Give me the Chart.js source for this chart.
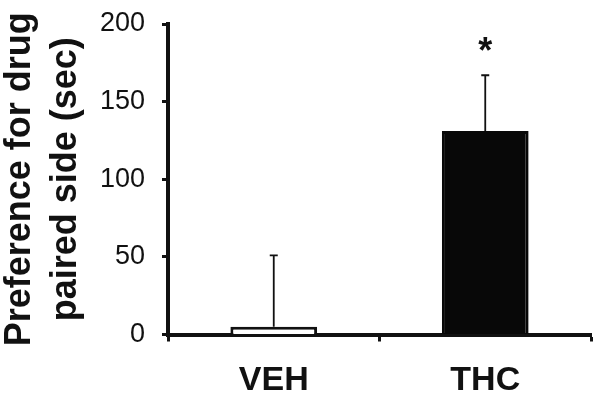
<!DOCTYPE html>
<html>
<head>
<meta charset="utf-8">
<script src="https://cdn.jsdelivr.net/npm/chart.js@4/dist/chart.umd.min.js"></script>
<style>
html,body{margin:0;padding:0;background:#fff;}
#wrap{width:601px;height:401px;}
</style>
</head>
<body>
<div id="wrap"><canvas id="c" width="601" height="401"></canvas></div>
<script>
const categories = ['VEH', 'THC'];
const means = [5, 131];
const sems = [46, 36];
const significance = ['', '*'];
const yTicks = [0, 50, 100, 150, 200];
const yTitle = ['Preference for drug', 'paired side (sec)'];

const FONT = "'Liberation Sans', Arial, sans-serif";

const errorBars = {
  id: 'errorBars',
  afterDatasetsDraw(chart) {
    const ctx = chart.ctx;
    const meta = chart.getDatasetMeta(0);
    const y = chart.scales.y;
    ctx.save();
    meta.data.forEach((bar, i) => {
      const x = bar.x;
      const yb = y.getPixelForValue(means[i]);
      const yt = y.getPixelForValue(means[i] + sems[i]);
      ctx.strokeStyle = '#111';
      ctx.lineWidth = 1.8;
      ctx.beginPath();
      ctx.moveTo(x, yb);
      ctx.lineTo(x, yt);
      ctx.moveTo(x - 4, yt);
      ctx.lineTo(x + 4, yt);
      ctx.stroke();
      if (significance[i]) {
        ctx.fillStyle = '#111';
        ctx.font = 'bold 36px ' + FONT;
        ctx.textAlign = 'center';
        ctx.textBaseline = 'alphabetic';
        ctx.fillText(significance[i], x, yt - 12);
      }
    });
    ctx.restore();
  }
};

new Chart(document.getElementById('c'), {
  type: 'bar',
  data: {
    labels: categories,
    datasets: [{
      data: means,
      backgroundColor: ['#ffffff', '#080808'],
      borderColor: ['#111111', '#080808'],
      borderWidth: 3,
      categoryPercentage: 1,
      barPercentage: 0.41
    }]
  },
  options: {
    responsive: false,
    animation: false,
    devicePixelRatio: 1,
    layout: { padding: { left: 0, right: 10, top: 24, bottom: 0 } },
    plugins: { legend: { display: false }, tooltip: { enabled: false } },
    scales: {
      x: {
        offset: true,
        grid: { display: true, offset: true, drawOnChartArea: false, tickLength: 7, tickWidth: 3, tickColor: '#111' },
        border: { display: true, color: '#111', width: 4 },
        ticks: { color: '#111', padding: 19, font: { family: FONT, size: 34, weight: 'bold' } },
        afterFit(scale) { scale.height = 66.5; scale.paddingLeft = 0; scale.paddingRight = 0; }
      },
      y: {
        min: 0, max: 200,
        afterBuildTicks(scale) { scale.ticks = yTicks.map(v => ({ value: v })); },
        grid: { display: true, drawOnChartArea: false, tickLength: 6, tickWidth: 3, tickColor: '#111' },
        border: { display: true, color: '#111', width: 4 },
        ticks: { color: '#111', padding: 17, font: { family: FONT, size: 27 } },
        title: {
          display: true,
          text: yTitle,
          color: '#111',
          padding: { top: -3, bottom: 0 },
          font: { family: FONT, size: 36, weight: 'bold', lineHeight: 1.28 }
        },
        afterFit(scale) { scale.width = 168; scale.paddingTop = 0; scale.paddingBottom = 0; }
      }
    }
  },
  plugins: [errorBars]
});
</script>
</body>
</html>
